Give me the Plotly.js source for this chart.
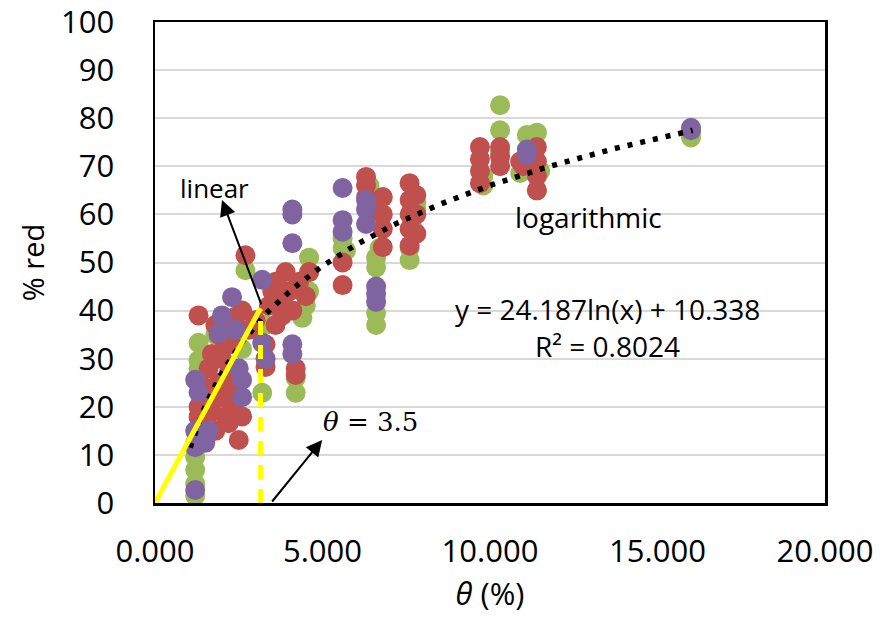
<!DOCTYPE html>
<html>
<head>
<meta charset="utf-8">
<script src="https://cdn.plot.ly/plotly-3.0.1.min.js"></script>
<style>html,body{margin:0;padding:0;background:#fff;}#chart{width:888px;height:624px;}</style>
</head>
<body>
<div id="chart"></div>
<script>
// Series
const greenX = [1.2,1.2,1.2,1.2,1.2,1.3,1.3,1.3,1.5,1.5,1.8,1.8,2.1,2.3,2.5,2.7,2.6,3.2,3.3,3.3,4.2,4.2,4.4,4.5,4.6,4.6,4.6,4.3,5.6,5.6,5.7,6.4,6.4,6.6,6.6,6.6,6.6,6.7,7.6,7.6,7.7,7.8,7.8,9.8,9.8,10.3,10.3,10.3,10.9,11.1,11.4,11.4,11.5,16.0,16.0];
const greenY = [1.5,4,6.9,9.6,12.5,28,33.3,29.7,18,22,35,30,24,26,36,48.4,32,22.9,37,30,22.9,26,38.5,41,44,48,51,45,53,55,52.5,60,66,37,39.5,49,51,53,50.5,53,57,61,62.5,66,68,82.7,77.5,73,68.6,76.5,65,77,69,76,77];
const redX = [1.3,1.3,1.3,1.5,1.6,1.7,1.7,1.8,1.9,2.0,2.0,2.1,2.2,2.2,2.3,2.4,2.3,2.5,2.6,2.6,2.7,2.8,3.3,3.3,3.4,3.5,3.6,3.7,3.8,3.9,4.0,4.1,4.2,4.2,4.3,4.5,4.6,5.6,5.6,6.3,6.3,6.3,6.4,6.8,6.8,6.8,6.8,7.6,7.6,7.6,7.6,7.6,7.8,7.8,7.8,9.7,9.7,9.7,9.7,10.3,10.3,10.3,10.9,11.0,11.3,11.4,11.4,11.4,11.4,1.6,1.9,2.1,2.4,1.8,2.2,3.0,3.6];
const redY = [17.9,20,39,24,28,31,19,15,35,30,22,18,16.6,27,33,38.7,20,13.1,40,18,51.5,36,28.3,33,41,44,46,42,39,48,44,40,26.6,28,46,43,48,45.3,50,67.8,66,63.6,61,63.6,60,57,53.2,66.5,63,60,57,53.5,64,60,56,66.5,69,71.5,74,70,72,74,71,70,73.5,65,68,71,74,22,25,33,24,37,37,38,37];
const purpleX = [1.2,1.2,1.2,1.3,1.2,1.4,1.5,1.6,1.9,2.0,2.3,2.6,2.6,2.5,2.4,3.2,3.2,3.3,4.1,4.1,4.1,4.1,4.1,5.6,5.6,5.6,6.3,6.3,6.3,6.6,6.6,6.6,11.1,11.1,16.0,16.0];
const purpleY = [2.7,11.6,15,23,25.6,13.7,12.5,15,35.3,39,42.8,22,25.6,28,36,33.3,46.4,30,31,33,54,60,61,65.5,58.8,56.4,63,61,58,45,43.5,41.8,72.3,73.5,77.5,78];

// Logarithmic trendline coefficients (from the equation on the chart)
const trendA = 24.187, trendB = 10.338;
const trendXmin = 1.05, trendXmax = 16.05;
const trendX = [], trendY = [];
for (let i = 0; i <= 120; i++) {
  const x = trendXmin + (trendXmax - trendXmin) * i / 120;
  trendX.push(x); trendY.push(trendA * Math.log(x) + trendB);
}

// Linear segment and threshold
const linearX = [0, 3.15];
const linearY = [0, 40.5];
const threshX = [3.15, 3.15];
const threshY = [0, 40];

const xTicks = [0, 5, 10, 15, 20];
const xTickText = ["0.000", "5.000", "10.000", "15.000", "20.000"];

const FONT = "Open Sans, Noto Sans, sans-serif";

const mk = (c) => ({color: c, size: 20, line: {width: 0}});
const data = [
  {x: greenX, y: greenY, type: 'scatter', mode: 'markers', marker: mk('#9BBB59'), hoverinfo: 'skip'},
  {x: redX, y: redY, type: 'scatter', mode: 'markers', marker: mk('#C0504D'), hoverinfo: 'skip'},
  {x: purpleX, y: purpleY, type: 'scatter', mode: 'markers', marker: mk('#8064A2'), hoverinfo: 'skip'},
  {x: trendX, y: trendY, type: 'scatter', mode: 'lines', line: {color: '#000', width: 5.5, dash: '5px,8px'}, hoverinfo: 'skip'},
  {x: linearX, y: linearY, type: 'scatter', mode: 'lines', line: {color: '#FFFF00', width: 5}, hoverinfo: 'skip'},
  {x: threshX, y: threshY, type: 'scatter', mode: 'lines', line: {color: '#FFFF00', width: 5, dash: '14px,10px'}, hoverinfo: 'skip'}
];

const layout = {
  width: 888, height: 624,
  margin: {l: 155, r: 63, t: 22, b: 121},
  paper_bgcolor: '#fff', plot_bgcolor: '#fff',
  showlegend: false,
  font: {family: FONT, size: 28, color: '#000'},
  xaxis: {
    range: [0, 20], tickvals: xTicks, ticktext: xTickText,
    showgrid: false, zeroline: false,
    showline: true, mirror: true, linecolor: '#000', linewidth: 2.5,
    ticks: '', ticklabelstandoff: 19, ticklabeloverflow: 'allow',
    tickfont: {family: FONT, size: 31},
    title: {text: '<i>θ</i> (%)', font: {family: FONT, size: 31}, standoff: 14}
  },
  yaxis: {
    range: [0, 100], dtick: 10,
    showgrid: true, gridcolor: '#d9d9d9', gridwidth: 2,
    zeroline: false,
    showline: true, mirror: true, linecolor: '#000', linewidth: 2.5,
    ticks: '', ticklabelstandoff: 32, ticklabeloverflow: 'allow',
    tickfont: {family: FONT, size: 31},
    title: {text: '% red', font: {family: FONT, size: 29}, standoff: 8}
  },
  annotations: [
    {x: 1.79, y: 65.5, xref: 'x', yref: 'y', text: 'linear', showarrow: false, font: {family: FONT, size: 26}},
    {x: 2.0, y: 63, ax: 3.19, ay: 41, xref: 'x', yref: 'y', axref: 'x', ayref: 'y', text: '', showarrow: true, arrowhead: 2, arrowsize: 1.6, arrowwidth: 2, arrowcolor: '#000'},
    {x: 6.42, y: 16.8, xref: 'x', yref: 'y', text: '<i>θ</i> = 3.5', showarrow: false, font: {family: 'DejaVu Serif, Liberation Serif, serif', size: 26}},
    {x: 4.99, y: 13.1, ax: 3.46, ay: 0, xref: 'x', yref: 'y', axref: 'x', ayref: 'y', text: '', showarrow: true, arrowhead: 2, arrowsize: 1.6, arrowwidth: 2, arrowcolor: '#000'},
    {x: 12.93, y: 59.5, xref: 'x', yref: 'y', text: 'logarithmic', showarrow: false, font: {family: FONT, size: 28}},
    {x: 13.52, y: 40.3, xref: 'x', yref: 'y', text: 'y = 24.187ln(x) + 10.338', showarrow: false, font: {family: FONT, size: 28}},
    {x: 13.52, y: 32.6, xref: 'x', yref: 'y', text: 'R² = 0.8024', showarrow: false, font: {family: FONT, size: 28}}
  ]
};

Plotly.newPlot('chart', data, layout, {staticPlot: true, displayModeBar: false});
</script>
</body>
</html>
